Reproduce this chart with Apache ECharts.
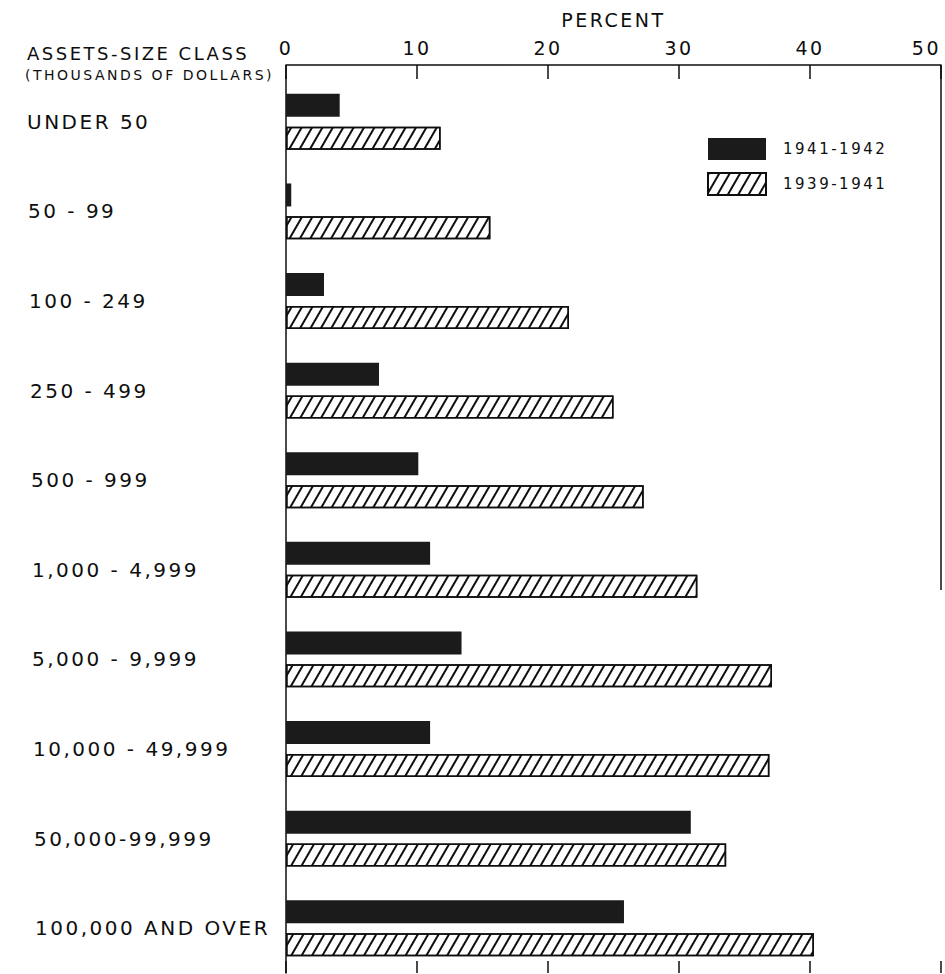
<!DOCTYPE html>
<html><head><meta charset="utf-8">
<script src="https://cdn.jsdelivr.net/npm/echarts@6/dist/echarts.min.js"></script>
<style>
html,body{margin:0;padding:0;background:#fff;}
#chart{width:945px;height:974px;letter-spacing:2.5px;}
</style></head><body>
<div id="chart"></div>
<script>
const categories = ['UNDER 50', '50 - 99', '100 - 249', '250 - 499', '500 - 999', '1,000 - 4,999', '5,000 - 9,999', '10,000 - 49,999', '50,000-99,999', '100,000 AND OVER'];
const seriesNames = ['1941-1942', '1939-1941'];
const values1941to1942 = [4.1, 0.4, 2.9, 7.1, 10.1, 11.0, 13.4, 11.0, 30.9, 25.8];
const values1939to1941 = [11.8, 15.6, 21.6, 25.0, 27.3, 31.4, 37.1, 36.9, 33.6, 40.3];
const xMin = 0, xMax = 50, xStep = 10;

const FONT = '"DejaVu Sans", sans-serif';
const INK = '#0e0e0e';
const chart = echarts.init(document.getElementById('chart'), null, {renderer: 'svg'});
const lineStyle = {color: INK, width: 1.5};
const option = {
  animation: false,
  backgroundColor: '#fff',
  title: [
    {text: 'ASSETS-SIZE CLASS', left: 27, top: 44, padding: 0,
     textStyle: {fontFamily: FONT, fontSize: 18, fontWeight: 'normal', color: INK, lineHeight: 18}},
    {text: '(THOUSANDS OF DOLLARS)', left: 25, top: 68, padding: 0,
     textStyle: {fontFamily: FONT, fontSize: 14, fontWeight: 'normal', color: INK, lineHeight: 14}}
  ],
  legend: {
    data: seriesNames, orient: 'vertical', left: 707, top: 138, padding: 0,
    itemWidth: 58, itemHeight: 22, itemGap: 12, selectedMode: false, icon: 'rect',
    textStyle: {fontFamily: FONT, fontSize: 15, color: INK, padding: [0, 0, 0, 12]}
  },
  grid: {left: 286, top: 77, width: 655, height: 896, containLabel: false, outerBoundsMode: 'none'},
  xAxis: [
    {type: 'value', position: 'top', min: xMin, max: xMax, interval: xStep, offset: 12,
     name: 'PERCENT', nameLocation: 'middle', nameGap: 36,
     nameTextStyle: {fontFamily: FONT, fontSize: 19, color: INK},
     axisLine: {show: true, lineStyle: lineStyle},
     axisTick: {show: true, inside: true, length: 14, lineStyle: lineStyle},
     axisLabel: {margin: 8, fontFamily: FONT, fontSize: 19, color: INK, alignMaxLabel: 'right'},
     splitLine: {show: false}},
    {type: 'value', position: 'bottom', min: xMin, max: xMax, interval: xStep,
     axisLine: {show: false},
     axisTick: {show: true, inside: true, length: 12, lineStyle: lineStyle},
     axisLabel: {show: false}, splitLine: {show: false}}
  ],
  yAxis: {
    type: 'category', inverse: true,
    data: categories.map((c, i) => ({value: c, textStyle: {
      align: 'left', verticalAlign: 'middle', fontFamily: FONT, fontSize: 20, color: INK,
      padding: [4, 0, 0, Math.round(i * 0.9)]}})),
    axisLine: {show: true, lineStyle: lineStyle},
    axisTick: {show: false},
    axisLabel: {align: 'left', margin: 259, fontFamily: FONT, fontSize: 20, color: INK},
    splitLine: {show: false}
  },
  series: [
    {name: seriesNames[0], type: 'bar', xAxisIndex: 0, data: values1941to1942,
     barWidth: 23, barGap: '43%', itemStyle: {color: '#1b1b1b'}},
    {name: seriesNames[1], type: 'bar', xAxisIndex: 0, data: values1939to1941,
     barWidth: 23, barGap: '43%',
     itemStyle: {color: '#fff', borderColor: INK, borderWidth: 1.5,
       decal: {symbol: 'rect', symbolSize: 1, dashArrayX: [1, 0], dashArrayY: [1.6, 6.4],
               rotation: -Math.PI / 3, color: INK, backgroundColor: '#fff'}}}
  ]
};
chart.setOption(option);
const x0 = chart.convertToPixel({xAxisIndex: 0}, xMin);
const x50 = chart.convertToPixel({xAxisIndex: 0}, xMax);
chart.setOption({graphic: [
  {type: 'line', shape: {x1: x0, y1: 65, x2: x0, y2: 78}, style: {stroke: INK, lineWidth: 1.5}},
  {type: 'line', shape: {x1: x50, y1: 65, x2: x50, y2: 590}, style: {stroke: INK, lineWidth: 1.5}}
]});
</script>
</body></html>
